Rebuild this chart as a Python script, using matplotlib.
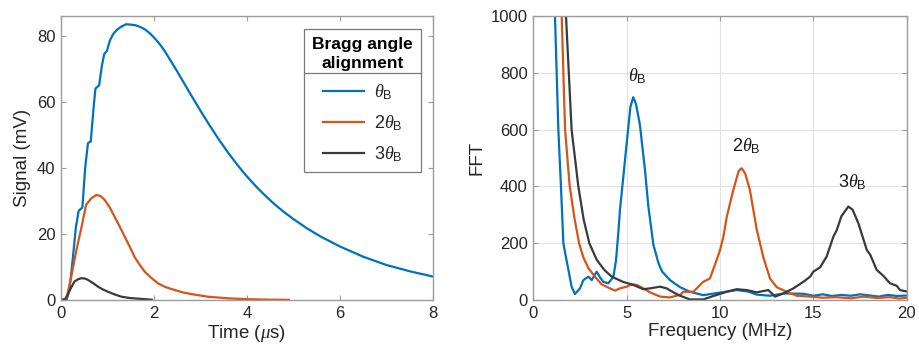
import matplotlib
matplotlib.use("Agg")
import matplotlib.pyplot as plt
from matplotlib.lines import Line2D

# ---- time-domain signals (µs, mV) ----
t_theta = [0, 0.12, 0.18, 0.25, 0.32, 0.38, 0.46, 0.52, 0.58, 0.64, 0.70, 0.74, 0.82,
           0.88, 0.93, 0.99, 1.05, 1.12, 1.20, 1.30, 1.40, 1.50, 1.60, 1.70, 1.80, 1.90,
           2.00, 2.10, 2.20, 2.30, 2.40, 2.50, 2.60, 2.80, 3.00, 3.20, 3.40, 3.60, 3.80,
           4.00, 4.20, 4.40, 4.60, 4.80, 5.00, 5.30, 5.60, 6.00, 6.50, 7.00, 7.50, 8.00]
s_theta = [0, 0, 3, 12, 22, 27, 28, 40, 47.5, 48, 58, 64, 65,
           71, 74.5, 75.5, 78.5, 80.5, 81.8, 82.8, 83.5, 83.4, 83.2, 82.7, 82.0, 80.9,
           79.5, 77.9, 76.0, 73.8, 71.5, 69.2, 66.8, 62.0, 57.3, 52.8, 48.5, 44.5, 40.8,
           37.4, 34.3, 31.5, 28.9, 26.6, 24.5, 21.6, 19.1, 16.2, 13.1, 10.6, 8.7, 7.1]

t_2theta = [0, 0.12, 0.22, 0.33, 0.44, 0.54, 0.65, 0.76, 0.85, 0.94, 1.05, 1.15, 1.26,
            1.37, 1.48, 1.58, 1.69, 1.80, 1.95, 2.09, 2.25, 2.45, 2.62, 2.80, 3.16,
            3.60, 4.00, 4.50, 4.90]
s_2theta = [0, 0.5, 7, 15, 22, 28.8, 30.8, 31.8, 31.5, 30.3, 28.0, 25.3, 22.3,
            19.2, 16.1, 13.1, 10.7, 8.6, 6.6, 5.0, 3.9, 3.0, 2.3, 1.8, 1.0,
            0.5, 0.25, 0.1, 0.05]

t_3theta = [0, 0.09, 0.19, 0.29, 0.37, 0.44, 0.51, 0.58, 0.69, 0.80, 0.90, 1.01, 1.15,
            1.30, 1.48, 1.66, 1.95]
s_3theta = [0, 0.2, 3.0, 5.6, 6.3, 6.6, 6.5, 6.1, 5.1, 4.0, 3.2, 2.5, 1.7,
            1.0, 0.6, 0.4, 0.1]

# ---- spectra (MHz, FFT magnitude) ----
f_theta = [1.10, 1.16, 1.34, 1.48, 1.61, 1.75, 1.88, 2.05, 2.23, 2.50, 2.68, 2.95, 3.13,
           3.39, 3.57, 3.75, 4.02, 4.29, 4.43, 4.55, 4.64, 4.82, 5.00, 5.20, 5.35, 5.50,
           5.71, 5.98, 6.16, 6.43, 6.70, 6.90, 7.32, 7.86, 8.39, 9.10, 10.00, 10.89,
           11.50, 11.96, 12.68, 13.39, 14.46, 15.00, 15.50, 16.00, 16.50, 17.00, 17.50,
           18.00, 18.50, 19.00, 19.50, 20.00]
a_theta = [1100, 1000, 600, 400, 200, 150, 106, 47, 21, 41, 70, 82, 70,
           100, 80, 64, 59, 82, 141, 235, 317, 434, 552, 680, 714, 690,
           616, 458, 330, 195, 130, 100, 70, 45, 29, 17, 26, 35,
           30, 19, 15, 23, 22, 15, 20, 14, 18, 15, 20,
           16, 12, 18, 14, 16]

f_2theta = [1.45, 1.52, 1.70, 1.95, 2.20, 2.45, 2.68, 2.95, 3.30, 3.66, 4.10, 4.37, 4.64,
            5.00, 5.27, 5.54, 5.89, 6.25, 6.79, 7.30, 7.86, 8.04, 8.57, 9.10, 9.46, 9.82,
            10.00, 10.18, 10.36, 10.71, 11.00, 11.16, 11.35, 11.60, 11.96, 12.32, 12.68,
            13.04, 13.57, 14.10, 14.80, 15.50, 16.20, 17.00, 17.70, 18.40, 19.10, 19.60,
            20.00]
a_2theta = [1100, 1000, 600, 400, 290, 200, 150, 112, 82, 55, 41, 33, 41,
            47, 55, 53, 41, 27, 12, 9, 18, 29, 29, 64, 76, 141,
            176, 223, 293, 387, 455, 464, 445, 387, 250, 150, 75,
            45, 29, 15, 12, 8, 10, 6, 12, 7, 10, 5,
            8]

f_3theta = [1.68, 1.75, 2.05, 2.41, 2.70, 3.00, 3.40, 3.80, 4.20, 4.80, 5.36, 5.89, 6.25,
            6.79, 7.14, 7.50, 7.86, 8.39, 9.10, 9.64, 10.36, 10.89, 11.43, 11.96, 12.59,
            12.95, 13.39, 13.93, 14.46, 14.82, 15.00, 15.36, 15.71, 16.07, 16.25, 16.50,
            16.87, 17.10, 17.41, 17.86, 18.04, 18.39, 18.75, 19.10, 19.46, 19.64, 20.00]
a_3theta = [1100, 1000, 600, 400, 282, 200, 141, 106, 82, 64, 53, 38, 41,
            47, 41, 27, 15, 2, 2, 14, 29, 38, 35, 27, 35,
            12, 23, 41, 64, 82, 100, 115, 153, 223, 246, 295,
            329, 318, 270, 176, 160, 106, 85, 59, 50, 35, 30]

series_labels = [r"$\theta_{\mathrm{B}}$", r"$2\theta_{\mathrm{B}}$", r"$3\theta_{\mathrm{B}}$"]
peak_labels = [r"$\theta_{\mathrm{B}}$", r"$2\theta_{\mathrm{B}}$", r"$3\theta_{\mathrm{B}}$"]
peak_pos = [(5.58, 789), (11.38, 542), (17.09, 414)]

colors = ["#0072BD", "#D95319", "#3a3a3a"]
frame_c = "#9c9c9c"
text_c = "#262626"

plt.rcParams["font.family"] = ["Liberation Sans", "DejaVu Sans"]
plt.rcParams["mathtext.fontset"] = "custom"
plt.rcParams["mathtext.rm"] = "Liberation Sans"
plt.rcParams["mathtext.it"] = "Liberation Serif:italic"

fig = plt.figure(figsize=(9.2, 3.58), dpi=100)
ax1 = fig.add_axes([0.0663, 0.162, 0.4043, 0.7933])
ax2 = fig.add_axes([0.5797, 0.162, 0.4059, 0.7933])


def style(ax):
    for sp in ax.spines.values():
        sp.set_color(frame_c)
        sp.set_linewidth(1.0)
    ax.tick_params(direction="in", length=3.5, width=0.8, color=frame_c,
                   labelsize=12, labelcolor=text_c, top=True, right=True, pad=4)


lw = 1.6
for t, s, c, lab in zip([t_theta, t_2theta, t_3theta], [s_theta, s_2theta, s_3theta],
                        colors, series_labels):
    ax1.plot(t, s, color=c, lw=lw, label=lab)
ax1.set_xlim(0, 8)
ax1.set_ylim(0, 86)
ax1.set_xticks([0, 2, 4, 6, 8])
ax1.set_yticks([0, 20, 40, 60, 80])
ax1.set_xlabel(r"Time ($\mu$s)", fontsize=13.5, color=text_c, labelpad=2)
ax1.set_ylabel("Signal (mV)", fontsize=13.5, color=text_c, labelpad=4)
style(ax1)

leg = ax1.legend(loc="upper right", bbox_to_anchor=(0.968, 0.954), borderaxespad=0,
                 fontsize=13, title="Bragg angle\nalignment",
                 title_fontproperties={"weight": "bold", "size": 12.5},
                 alignment="center",
                 frameon=True, fancybox=False, edgecolor="#7a7a7a", framealpha=1,
                 handlelength=2.3, handletextpad=0.5, labelspacing=0.62,
                 borderpad=0.45)
leg.get_frame().set_linewidth(0.9)
leg.get_title().set_multialignment("center")
leg.get_title().set_linespacing(1.35)
for txt in leg.get_texts():
    txt.set_color(text_c)

for f, a, c in zip([f_theta, f_2theta, f_3theta], [a_theta, a_2theta, a_3theta], colors):
    ax2.plot(f, a, color=c, lw=lw)
ax2.set_xlim(0, 20)
ax2.set_ylim(0, 1000)
ax2.set_xticks([0, 5, 10, 15, 20])
ax2.set_yticks([0, 200, 400, 600, 800, 1000])
ax2.grid(True, color="#e2e2e2", lw=0.8)
ax2.set_axisbelow(True)
ax2.set_xlabel("Frequency (MHz)", fontsize=13.5, color=text_c, labelpad=2)
ax2.set_ylabel("FFT", fontsize=13.5, color=text_c, labelpad=4)
style(ax2)
for lab, (x, y) in zip(peak_labels, peak_pos):
    ax2.text(x, y, lab, fontsize=13, ha="center", va="center", color="#1a1a1a")

# separator line between legend title and entries
fig.canvas.draw()
rend = fig.canvas.get_renderer()
fb = leg.get_frame().get_window_extent(rend)
tb = leg._legend_title_box.get_window_extent(rend)
y_sep = tb.y0 - 2
inv = fig.transFigure.inverted()
(x0, ys), (x1, _) = inv.transform([(fb.x0, y_sep), (fb.x1, y_sep)])
fig.add_artist(Line2D([x0, x1], [ys, ys], transform=fig.transFigure,
                      color="#7a7a7a", lw=0.9))

fig.savefig("out.png", dpi=100)
